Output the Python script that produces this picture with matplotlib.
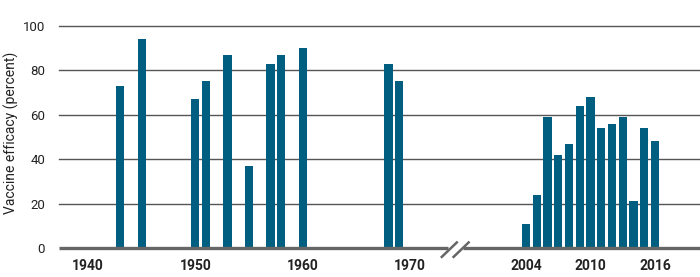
import matplotlib

matplotlib.use("Agg")
import matplotlib.pyplot as plt

plt.rcParams["font.family"] = ["Roboto", "DejaVu Sans"]

# early era (plotted on the real year scale)
early_years = [1943, 1945, 1950, 1951, 1953, 1955, 1957, 1958, 1960, 1968, 1969]
early_vals = [73, 94, 67, 75, 87, 37, 83, 87, 90, 83, 75]

# recent era (shifted left across the axis break)
late_years = list(range(2004, 2017))
late_vals = [11, 24, 59, 42, 47, 64, 68, 54, 56, 59, 21, 54, 48]

yticks = [0, 20, 40, 60, 80, 100]
early_ticks = [1940, 1950, 1960, 1970]
late_ticks = [2004, 2010, 2016]

SHIFT = 23.2  # years removed by the break
BAR = "#005e80"

fig = plt.figure(figsize=(7.0, 2.77), dpi=100)
ax = fig.add_axes([59 / 700, 1 - 248 / 277, 641 / 700, 222 / 277])

x_late = [y - SHIFT for y in late_years]
ax.bar(early_years, early_vals, width=0.77, color=BAR, zorder=3)
ax.bar(x_late, late_vals, width=0.77, color=BAR, zorder=3)

ax.set_xlim(1937.3, 1997.0)
ax.set_ylim(0, 100)

for v in yticks[1:]:
    ax.axhline(v, color="#555555", lw=1.0, zorder=1, clip_on=False)

# baseline with a gap for the break marks
brk = 1974.2
ax.plot([1937.3, brk - 0.7], [0, 0], color="#666666", lw=2.4, zorder=4,
        clip_on=False, solid_capstyle="butt")
ax.plot([brk + 0.7, 1997.0], [0, 0], color="#666666", lw=2.4, zorder=4,
        clip_on=False, solid_capstyle="butt")
for dx in (-0.55, 0.55):
    ax.plot([brk + dx - 0.7, brk + dx + 0.7], [-4, 2.5], color="#666666",
            lw=1.8, zorder=4, clip_on=False)

for s in ax.spines.values():
    s.set_visible(False)

ax.set_yticks(yticks)
ax.set_yticklabels([str(v) for v in yticks], fontsize=9.5, color="#222222")
xt = early_ticks + [y - SHIFT for y in late_ticks]
ax.set_xticks(xt)
ax.set_xticklabels([str(v) for v in early_ticks + late_ticks], fontsize=10,
                   fontweight="bold", color="#222222")
ax.tick_params(axis="both", length=0)
ax.tick_params(axis="y", pad=10)
ax.tick_params(axis="x", pad=8)

fig.text(11 / 700, 1 - 133 / 277, "Vaccine efficacy (percent)", rotation=90,
         ha="center", va="center", fontsize=10, color="#222222")

fig.savefig("out.png", dpi=100)
